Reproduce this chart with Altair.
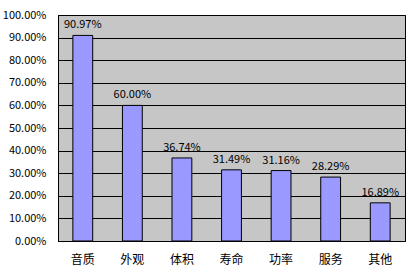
import altair as alt
import pandas as pd

categories = ["音质", "外观", "体积", "寿命", "功率", "服务", "其他"]
values = [0.9097, 0.6000, 0.3674, 0.3149, 0.3116, 0.2829, 0.1689]
labels = ["90.97%", "60.00%", "36.74%", "31.49%", "31.16%", "28.29%", "16.89%"]
ticks = [0.0, 0.1, 0.2, 0.3, 0.4, 0.5, 0.6, 0.7, 0.8, 0.9, 1.0]

df = pd.DataFrame({"cat": categories, "val": values, "lab": labels})

font = "Noto Sans CJK SC"

x = alt.X("cat:N", sort=categories, title=None,
          scale=alt.Scale(paddingInner=0.6, paddingOuter=0.3),
          axis=alt.Axis(labelAngle=0, labelFont=font, labelFontSize=12,
                        labelColor="black", labelPadding=13, ticks=False,
                        domainColor="black", domainWidth=1, grid=False))
y = alt.Y("val:Q", title=None,
          scale=alt.Scale(domain=[0, 1], nice=False),
          axis=alt.Axis(format=".2%", values=ticks, labelOverlap=False,
                        labelFlush=False,
                        labelFont=font, labelFontSize=11, labelColor="black",
                        labelPadding=12, ticks=False, domainColor="black",
                        grid=True, gridColor="black", gridWidth=1,
                        gridOpacity=1))

base = alt.Chart(df).encode(x=x, y=y)
bars = base.mark_bar(color="#9999ff", stroke="black", strokeWidth=1)
text = base.mark_text(font=font, fontSize=11, color="black",
                      baseline="bottom", dy=-5).encode(text="lab:N")

chart = alt.layer(bars, text).properties(
    width=347, height=226,
    autosize=alt.AutoSizeParams(type="none"),
    padding={"left": 58, "top": 15, "right": 8, "bottom": 32},
    background="white",
).configure_view(fill="#c6c6c6", stroke="black", strokeWidth=1)

chart.save("out.html", embed_options={"renderer": "svg", "actions": False})
